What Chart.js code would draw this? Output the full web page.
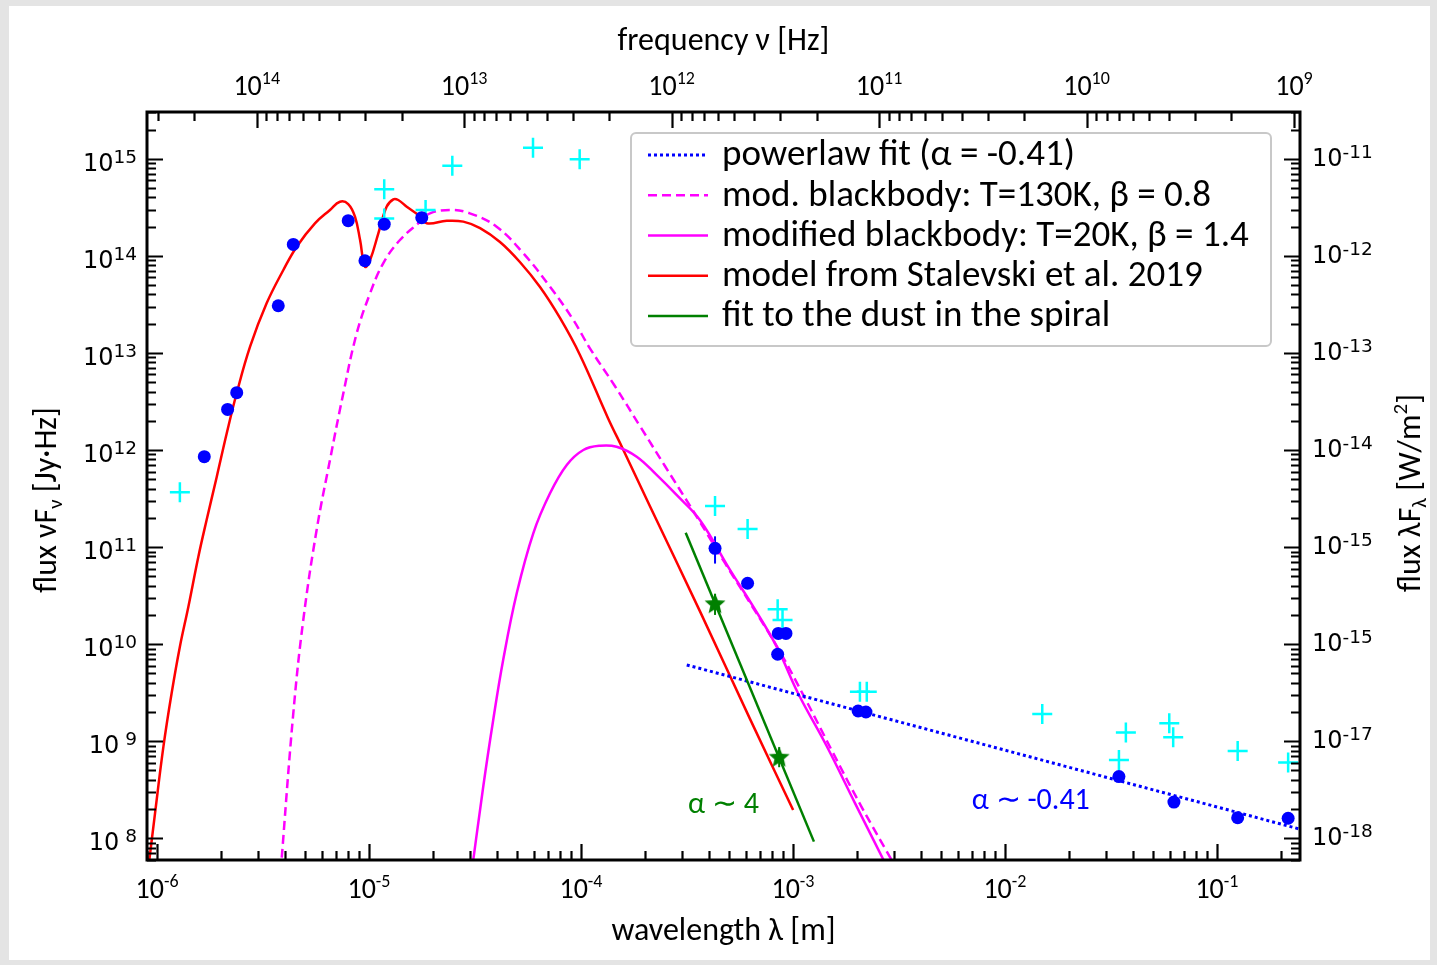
<!DOCTYPE html>
<html>
<head>
<meta charset="utf-8">
<title>SED</title>
<script src="https://cdn.jsdelivr.net/npm/chart.js@4.4.1/dist/chart.umd.min.js"></script>
<style>
  html, body { margin: 0; padding: 0; background: #e4e4e4; }
  #wrap { position: absolute; left: 0; top: 0; width: 1437px; height: 965px; }
</style>
</head>
<body>
<div id="wrap"><canvas id="sed-chart"></canvas></div>
<script>
/* ---------- photometry (wavelength in m, flux nuF_nu in Jy*Hz) ---------- */
const dotWl   = [1.671e-6, 2.153e-6, 2.377e-6, 3.733e-6, 4.395e-6, 7.98e-6, 9.57e-6, 1.180e-5, 1.774e-5,
                 4.29e-4, 6.11e-4, 8.53e-4, 9.27e-4, 8.47e-4, 2.03e-3, 2.21e-3, 0.0345, 0.0627, 0.1253, 0.2168];
const dotFlux = [8.53e11, 2.62e12, 3.89e12, 3.06e13, 1.31e14, 2.30e14, 8.9e13, 2.12e14, 2.47e14,
                 9.7e10, 4.24e10, 1.29e10, 1.29e10, 7.87e9, 2.05e9, 2.00e9, 4.33e8, 2.36e8, 1.63e8, 1.61e8];

const crossWl   = [1.282e-6, 1.180e-5, 1.180e-5, 1.849e-5, 2.472e-5, 5.94e-5, 9.86e-5, 4.29e-4, 6.11e-4, 8.47e-4,
                   8.93e-4, 2.07e-3, 2.23e-3, 0.0150, 0.0345, 0.0372, 0.0596, 0.0622, 0.1253, 0.2168];
const crossFlux = [3.66e11, 4.84e14, 2.43e14, 2.96e14, 8.47e14, 1.297e15, 9.86e14, 2.65e11, 1.535e11, 2.29e10,
                   1.774e10, 3.24e9, 3.24e9, 1.91e9, 6.41e8, 1.227e9, 1.531e9, 1.099e9, 7.94e8, 6.03e8];

const starWl   = [4.29e-4, 8.61e-4];
const starFlux = [2.64e10, 6.93e8];

// vertical error bars: wavelength, lower, upper
const errWl = [4.29e-4, 4.29e-4, 8.61e-4];
const errLo = [6.76e10, 2.0e10, 5.4e8];
const errHi = [1.29e11, 3.3e10, 8.7e8];

/* ---------- models ---------- */
const modelWl = [9.02e-7, 9.79e-7, 1.072e-6, 1.172e-6, 1.282e-6, 1.406e-6, 1.567e-6, 1.714e-6, 1.914e-6, 2.133e-6,
                 2.377e-6, 2.748e-6, 3.289e-6, 3.945e-6, 4.560e-6, 5.559e-6, 6.546e-6, 7.295e-6, 7.980e-6, 8.590e-6,
                 9.078e-6, 9.572e-6, 1.012e-5, 1.107e-5, 1.211e-5, 1.303e-5, 1.374e-5, 1.507e-5, 1.710e-5, 1.871e-5,
                 2.328e-5, 2.786e-5, 3.342e-5, 4.15e-5, 5.15e-5, 6.41e-5, 7.96e-5, 9.89e-5, 1.340e-4, 1.585e-4,
                 2.113e-4, 3.639e-4, 6.27e-4, 1.002e-3];
const modelFlux = [4.2e7, 1.82e8, 8.79e8, 3.12e9, 9.42e9, 2.43e10, 7.96e10, 1.90e11, 5.31e11, 1.486e12,
                   3.86e12, 1.159e13, 3.24e13, 7.14e13, 1.242e14, 2.163e14, 2.965e14, 3.606e14, 3.412e14, 2.529e14,
                   1.455e14, 7.73e13, 9.06e13, 1.706e14, 3.206e14, 3.819e14, 3.758e14, 3.206e14, 2.630e14, 2.163e14,
                   2.296e14, 2.25e14, 1.93e14, 1.387e14, 8.63e13, 4.77e13, 2.29e13, 9.53e12, 2.14e12, 1.0e12,
                   2.65e11, 2.19e10, 1.70e9, 1.96e8];

// modified blackbody T=130K, beta=0.8
const hotWl = [3.83e-6, 4.395e-6, 4.898e-6, 5.662e-6, 6.546e-6, 7.568e-6, 8.750e-6, 1.012e-5, 1.167e-5, 1.400e-5,
               1.742e-5, 1.94e-5, 2.41e-5, 2.99e-5, 4.000e-5, 5.346e-5, 7.145e-5, 9.204e-5, 1.102e-4, 1.445e-4,
               1.897e-4, 2.489e-4, 3.524e-4, 4.775e-4, 6.41e-4, 8.59e-4, 1.151e-3, 1.538e-3, 2.094e-3, 3.03e-3];
const hotFlux = [4.51e7, 1.941e9, 1.774e10, 1.500e11, 7.89e11, 3.84e12, 1.592e13, 4.11e13, 8.38e13, 1.455e14,
                 2.244e14, 2.74e14, 2.97e14, 2.74e14, 1.995e14, 1.062e14, 4.81e13, 2.183e13, 1.114e13, 4.56e12,
                 1.766e12, 6.84e11, 2.04e11, 6.86e10, 2.47e10, 8.71e9, 2.66e9, 7.76e8, 2.16e8, 5.2e7];

// modified blackbody T=20K, beta=1.4
const coldWl = [2.972e-5, 3.459e-5, 3.855e-5, 4.295e-5, 4.977e-5, 5.957e-5, 7.145e-5, 8.570e-5, 1.026e-4, 1.230e-4,
                1.472e-4, 1.832e-4, 2.275e-4, 2.825e-4, 3.639e-4, 5.047e-4, 6.501e-4, 8.38e-4, 1.057e-3, 1.442e-3,
                1.959e-3, 2.748e-3];
const coldFlux = [2.94e7, 3.40e8, 1.656e9, 6.87e9, 3.34e10, 1.387e11, 3.58e11, 7.01e11, 1.0e12, 1.107e12,
                  1.081e12, 8.53e11, 5.53e11, 3.44e11, 1.90e11, 5.81e10, 2.43e10, 9.42e9, 3.12e9, 8.93e8,
                  2.32e8, 5.32e7];

const powerWl   = [3.155e-4, 0.2466];
const powerFlux = [6.11e9, 1.242e8];

const dustWl   = [3.119e-4, 1.256e-3];
const dustFlux = [1.406e11, 9.25e7];

/* ---------- axes ---------- */
const wlRange   = [8.97e-7, 0.2466];
const fluxRange = [5.98e7, 3.03e15];
const freqRange = [9.35e8, 3.38e14];

const wlTickExp    = ['-6', '-5', '-4', '-3', '-2', '-1'];
const freqTickExp  = ['14', '13', '12', '11', '10', '9'];
const fluxTickExp  = ['15', '14', '13', '12', '11', '10', ' 9', ' 8'];
const wattTickExp  = ['-11', '-12', '-13', '-14', '-15', '-15', '-17', '-18'];

const CYAN = '#00ffff', BLUE = '#0000ff', MAGENTA = '#ff00ff', RED = '#ff0000', GREEN = '#008000';
const SANS = 'Carlito, Lato, sans-serif';
const VERD = '"DejaVu Sans", Verdana, sans-serif';

function pts(xs, ys) { return xs.map((x, i) => ({ x, y: ys[i] })); }

function starImage(size, color) {
  const c = document.createElement('canvas');
  c.width = c.height = size;
  const g = c.getContext('2d');
  const r = size / 2, ri = r * 0.45;
  g.beginPath();
  for (let i = 0; i < 10; i++) {
    const a = -Math.PI / 2 + i * Math.PI / 5;
    const rr = i % 2 ? ri : r;
    g.lineTo(r + rr * Math.cos(a), r + rr * Math.sin(a) + 1);
  }
  g.closePath(); g.fillStyle = color; g.fill();
  return c;
}

function logTicks(min, max) {
  const out = [];
  for (let e = Math.floor(Math.log10(min)); e <= Math.ceil(Math.log10(max)); e++) {
    for (let m = 1; m <= 9; m++) {
      const v = m * Math.pow(10, e);
      if (v >= min * 0.9999 && v <= max * 1.0001) out.push({ v, major: m === 1 });
    }
  }
  return out;
}

// draws runs of text with their own size / vertical shift, e.g. superscripts
function drawRich(ctx, parts, x, y, align) {
  let w = 0;
  parts.forEach(p => { ctx.font = p.font; p.w = ctx.measureText(p.t).width; w += p.w; });
  let cx = align === 'center' ? x - w / 2 : align === 'right' ? x - w : x;
  ctx.textAlign = 'left';
  ctx.textBaseline = 'alphabetic';
  parts.forEach(p => { ctx.font = p.font; ctx.fillText(p.t, cx, y + (p.dy || 0)); cx += p.w; });
}

function powLabel(base, exp, baseFont, expFont, rise) {
  return [{ t: base, font: baseFont }, { t: exp, font: expFont, dy: -rise }];
}

const axesDecor = {
  id: 'axesDecor',
  beforeDraw(chart) {
    const { ctx } = chart;
    ctx.save();
    ctx.fillStyle = '#ffffff';
    ctx.fillRect(9, 6, 1421, 954);
    ctx.restore();
  },
  beforeDatasetsDraw(chart) {
    const { ctx, scales: { x, y } } = chart;
    ctx.save();
    ctx.lineWidth = 2;
    errWl.forEach((w, i) => {
      const px = x.getPixelForValue(w);
      ctx.strokeStyle = i === 0 ? BLUE : GREEN;
      ctx.beginPath();
      ctx.moveTo(px, y.getPixelForValue(errLo[i]));
      ctx.lineTo(px, y.getPixelForValue(errHi[i]));
      ctx.stroke();
    });
    ctx.restore();
  },
  afterDraw(chart) {
    const { ctx, chartArea: a, scales } = chart;
    const { x, x2, y } = scales;
    ctx.save();
    ctx.fillStyle = '#000';

    // tick marks, pointing into the plot
    ctx.strokeStyle = '#000';
    ctx.lineWidth = 2.2;
    const MAJ = 16, MIN = 9;
    ctx.beginPath();
    logTicks(x.min, x.max).forEach(t => {
      const p = Math.round(x.getPixelForValue(t.v)) + 0.5;
      ctx.moveTo(p, a.bottom); ctx.lineTo(p, a.bottom - (t.major ? MAJ : MIN));
    });
    logTicks(x2.min, x2.max).forEach(t => {
      const p = Math.round(x2.getPixelForValue(t.v)) + 0.5;
      ctx.moveTo(p, a.top); ctx.lineTo(p, a.top + (t.major ? MAJ : MIN));
    });
    logTicks(y.min, y.max).forEach(t => {
      const p = Math.round(y.getPixelForValue(t.v)) + 0.5;
      ctx.moveTo(a.left, p); ctx.lineTo(a.left + (t.major ? MAJ : MIN), p);
      ctx.moveTo(a.right, p); ctx.lineTo(a.right - (t.major ? MAJ : MIN), p);
    });
    ctx.stroke();

    // frame
    ctx.lineWidth = 3;
    ctx.strokeRect(a.left, a.top, a.right - a.left, a.bottom - a.top);

    // tick labels
    const bx = '28px ' + SANS, ex = '18px ' + SANS;
    wlTickExp.forEach(e => {
      const px = x.getPixelForValue(Math.pow(10, +e));
      drawRich(ctx, powLabel('10', e, bx, ex, 11), px, a.bottom + 38, 'center');
    });
    freqTickExp.forEach(e => {
      const px = x2.getPixelForValue(Math.pow(10, +e));
      drawRich(ctx, powLabel('10', e, bx, ex, 11), px, a.top - 17, 'center');
    });
    const bv = '24px ' + VERD, ev = '18.5px ' + VERD;
    fluxTickExp.forEach((e, i) => {
      const py = y.getPixelForValue(Math.pow(10, 15 - i));
      drawRich(ctx, powLabel('10', e, bv, ev, 8), a.left - 10, py + 12, 'right');
      drawRich(ctx, powLabel('10', wattTickExp[i], bv, ev, 8), a.right + 12, py + 7, 'left');
    });

    // axis titles
    const tf = '32px ' + SANS, sf = '21px ' + SANS;
    drawRich(ctx, [{ t: 'frequency \u03bd [Hz]', font: tf }], (a.left + a.right) / 2, 50, 'center');
    drawRich(ctx, [{ t: 'wavelength \u03bb [m]', font: tf }], (a.left + a.right) / 2, 940, 'center');
    ctx.save();
    ctx.translate(56, 500); ctx.rotate(-Math.PI / 2);
    drawRich(ctx, [{ t: 'flux \u03bdF', font: tf }, { t: '\u03bd', font: sf, dy: 6 }, { t: ' [Jy\u00b7Hz]', font: tf }], 0, 0, 'center');
    ctx.restore();
    ctx.save();
    ctx.translate(1420, 493); ctx.rotate(-Math.PI / 2);
    drawRich(ctx, [{ t: 'flux \u03bbF', font: tf }, { t: '\u03bb', font: sf, dy: 6 }, { t: ' [W/m', font: tf },
                   { t: '2', font: sf, dy: -13 }, { t: ']', font: tf }], 0, 0, 'center');
    ctx.restore();

    // slope notes
    ctx.font = '30px ' + SANS;
    ctx.textBaseline = 'middle'; ctx.textAlign = 'left';
    ctx.fillStyle = GREEN;
    ctx.fillText('\u03b1 \u223c 4', x.getPixelForValue(3.2e-4), y.getPixelForValue(2.16e8));
    ctx.fillStyle = BLUE;
    ctx.fillText('\u03b1 \u223c -0.41', x.getPixelForValue(6.98e-3), y.getPixelForValue(2.37e8));

    // legend
    const lx = 631, ly = 133, lw = 640, lh = 213;
    ctx.fillStyle = '#fff';
    ctx.strokeStyle = '#c8c8c8';
    ctx.lineWidth = 2;
    ctx.beginPath();
    ctx.roundRect(lx, ly, lw, lh, 5);
    ctx.fill(); ctx.stroke();
    const items = chart.data.datasets.filter(d => d.showLine);
    items.forEach((d, i) => {
      const cy = ly + 22 + i * 40.25;
      ctx.strokeStyle = d.borderColor;
      ctx.lineWidth = d.borderWidth;
      ctx.setLineDash(d.borderDash || []);
      ctx.beginPath(); ctx.moveTo(lx + 17, cy); ctx.lineTo(lx + 77, cy); ctx.stroke();
      ctx.setLineDash([]);
      ctx.fillStyle = '#000';
      ctx.font = '37px ' + SANS;
      ctx.textBaseline = 'middle';
      ctx.fillText(d.label, lx + 91, cy + 1);
    });
    ctx.restore();
  }
};

const curve = (label, xs, ys, color, dash, order) => ({
  label, data: pts(xs, ys), showLine: true, borderColor: color, borderWidth: 2.5,
  borderDash: dash, pointRadius: 0, tension: 0.4, order
});

new Chart(document.getElementById('sed-chart'), {
  type: 'scatter',
  data: {
    datasets: [
      Object.assign(curve('powerlaw fit (\u03b1 = -0.41)', powerWl, powerFlux, BLUE, [3, 3], 5), { borderWidth: 3, tension: 0 }),
      curve('mod. blackbody: T=130K, \u03b2 = 0.8', hotWl, hotFlux, MAGENTA, [9, 5], 6),
      curve('modified blackbody: T=20K, \u03b2 = 1.4', coldWl, coldFlux, MAGENTA, [], 7),
      curve('model from Stalevski et al. 2019', modelWl, modelFlux, RED, [], 8),
      Object.assign(curve('fit to the dust in the spiral', dustWl, dustFlux, GREEN, [], 4), { tension: 0 }),
      { label: 'data', data: pts(dotWl, dotFlux), pointStyle: 'circle', pointRadius: 6.5,
        backgroundColor: BLUE, borderColor: BLUE, borderWidth: 0, order: 1 },
      { label: 'upper', data: pts(crossWl, crossFlux), pointStyle: 'cross', pointRadius: 10,
        borderColor: CYAN, borderWidth: 2.5, order: 2 },
      { label: 'spiral', data: pts(starWl, starFlux), pointStyle: starImage(22, GREEN), order: 0 }
    ]
  },
  options: {
    responsive: true, maintainAspectRatio: false, animation: false,
    layout: { padding: 0, autoPadding: false },
    plugins: { legend: { display: false }, tooltip: { enabled: false } },
    scales: {
      x:  { type: 'logarithmic', position: 'bottom', min: wlRange[0], max: wlRange[1],
            ticks: { display: false }, grid: { display: false }, border: { display: false },
            afterFit: s => { s.height = 105; } },
      x2: { type: 'logarithmic', position: 'top', reverse: true, min: freqRange[0], max: freqRange[1],
            ticks: { display: false }, grid: { display: false }, border: { display: false },
            afterFit: s => { s.height = 112; } },
      y:  { type: 'logarithmic', position: 'left', min: fluxRange[0], max: fluxRange[1],
            ticks: { display: false }, grid: { display: false }, border: { display: false },
            afterFit: s => { s.width = 147; } },
      y2: { type: 'logarithmic', position: 'right', min: fluxRange[0], max: fluxRange[1],
            ticks: { display: false }, grid: { display: false }, border: { display: false },
            afterFit: s => { s.width = 137; } }
    }
  },
  plugins: [axesDecor]
});
</script>
</body>
</html>
